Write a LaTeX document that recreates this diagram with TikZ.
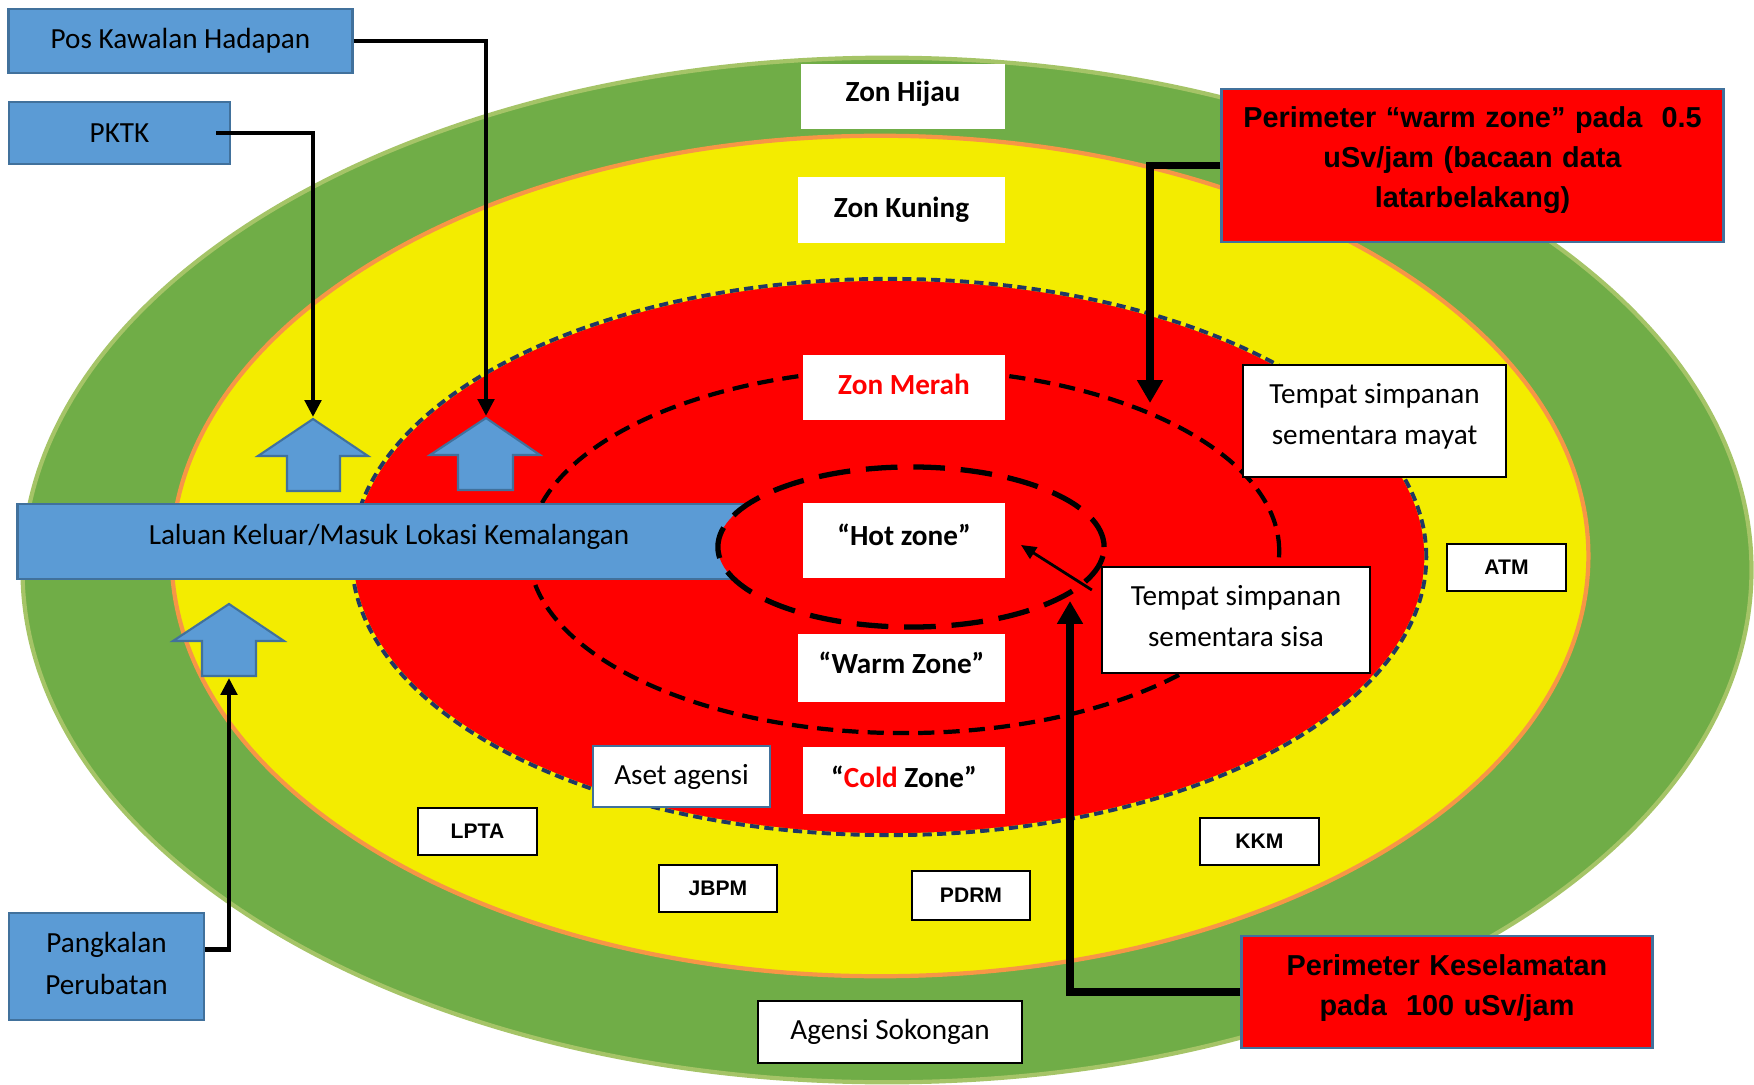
\documentclass[tikz,border=0pt]{standalone}
\usepackage{fontspec}
\setmainfont{Carlito}
\newfontfamily\arialfont{Liberation Sans}
\usetikzlibrary{arrows.meta}
\definecolor{zgreen}{HTML}{70AD47}
\definecolor{zgreenb}{HTML}{A5C467}
\definecolor{zyellow}{HTML}{F3EC00}
\definecolor{zorange}{HTML}{F79646}
\definecolor{zred}{HTML}{FF0000}
\definecolor{znavy}{HTML}{1F3864}
\definecolor{zblue}{HTML}{5B9BD5}
\definecolor{zblueb}{HTML}{41719C}
\newcommand{\zdepth}[1]{\rule[-#1]{0pt}{#1}}
\tikzset{
  txt/.style={font=\fontsize{8.3}{11.8}\selectfont},
  bluebox/.style={txt, fill=zblue, draw=zblueb, line width=0.8pt, inner sep=0pt, align=center},
  whitebox/.style={txt, fill=white, inner sep=0pt, align=center},
  zonebox/.style={whitebox, font=\fontsize{8.3}{11.8}\selectfont\bfseries},
  framebox/.style={whitebox, draw=black, line width=0.6pt},
  redbox/.style={fill=zred, draw=zblueb, line width=0.8pt, inner sep=0pt, align=center, font=\arialfont\bfseries\fontsize{8.2}{11.4}\selectfont},
  tagbox/.style={fill=white, draw=black, line width=0.8pt, inner sep=0pt, font=\arialfont\bfseries\fontsize{6}{7}\selectfont},
  blockarrow/.style={fill=zblue, draw=zblueb, line width=0.6pt},
  conn/.style={line width=1.3pt, -{Triangle[length=4.8pt,width=4.6pt]}},
  thickconn/.style={line width=2.2pt, -{Triangle[length=6.5pt,width=7pt]}},
  thinconn/.style={line width=0.8pt, -{Triangle[length=4.3pt,width=3.8pt]}},
}
\begin{document}
\begin{tikzpicture}[x=0.01cm,y=-0.01cm]
\useasboundingbox (0,0) rectangle (1754,1085);
% zones
\filldraw[fill=zgreen, draw=zgreenb, line width=1.2pt] (887,570) ellipse [x radius=8.64cm, y radius=5.12cm];
\filldraw[fill=zyellow, draw=zorange, line width=1.2pt] (880,556) ellipse [x radius=7.08cm, y radius=4.2cm];
\fill[zred] (889,557) ellipse [x radius=5.37cm, y radius=2.78cm];
\draw[zyellow, line width=1.1pt] (889,557) ellipse [x radius=5.37cm, y radius=2.78cm];
\draw[znavy, line width=1.1pt, dash pattern=on 2.6pt off 1.5pt] (889,557) ellipse [x radius=5.37cm, y radius=2.78cm];
\draw[black, line width=1.2pt, dash pattern=on 4.6pt off 2.6pt] (904,551) ellipse [x radius=3.75cm, y radius=1.82cm];
% route band
\node[bluebox, minimum width=7.42cm, minimum height=0.75cm] (band) at (389,541.5) {\raisebox{4pt}{Laluan Keluar/Masuk Lokasi Kemalangan}};
% hot zone
\filldraw[fill=zred, draw=black, line width=1.5pt, dash pattern=on 9pt off 4.5pt] (911,547) ellipse [x radius=1.93cm, y radius=0.8cm];
% block arrows
\filldraw[blockarrow] (313,419) -- (368,456) -- (340,456) -- (340,491) -- (287,491) -- (287,456) -- (258,456) -- cycle;
\filldraw[blockarrow] (486,418) -- (540,455) -- (513,455) -- (513,490) -- (458,490) -- (458,455) -- (430,455) -- cycle;
\filldraw[blockarrow] (229,604) -- (284,641) -- (256,641) -- (256,676) -- (202,676) -- (202,641) -- (173,641) -- cycle;
\coordinate (a1) at (313,417);
\coordinate (a2) at (486,416);
\coordinate (a3) at (229,678);
\coordinate (pwtip) at (1150,403);
\coordinate (pktip) at (1070,601);
\coordinate (hottip) at (1021,545);
% left blue boxes
\node[bluebox, minimum width=3.43cm, minimum height=0.64cm] (pkh) at (180.5,41) {Pos Kawalan Hadapan};
\node[bluebox, minimum width=2.21cm, minimum height=0.62cm] (pktk) at (119.5,133) {PKTK};
\node[bluebox, minimum width=1.95cm, minimum height=1.07cm] (pkl) at (106.5,966.5) {Pangkalan\\Perubatan\zdepth{1.8pt}};
% zone labels
\node[zonebox, minimum width=2.04cm, minimum height=0.65cm] (hijau) at (903,96.5) {\raisebox{3pt}{Zon Hijau}};
\node[zonebox, minimum width=2.07cm, minimum height=0.66cm] (kuning) at (901.5,210) {Zon Kuning};
\node[zonebox, minimum width=2.02cm, minimum height=0.65cm, text=zred] (merah) at (904,387.5) {\raisebox{2pt}{Zon Merah}};
\node[zonebox, minimum width=2.02cm, minimum height=0.75cm] (hot) at (904,540.5) {\raisebox{3.5pt}{“Hot zone”}};
\node[zonebox, minimum width=2.07cm, minimum height=0.68cm] (warm) at (901.5,668) {\raisebox{3pt}{“Warm Zone”}};
\node[zonebox, minimum width=2.02cm, minimum height=0.67cm] (cold) at (904,780.5) {\raisebox{2pt}{“{\color{zred}Cold} Zone”}};
% framed labels
\node[framebox, minimum width=2.63cm, minimum height=1.12cm] (mayat) at (1374.5,421) {Tempat simpanan\\sementara mayat\zdepth{4pt}};
\node[framebox, minimum width=2.68cm, minimum height=1.06cm] (sisa) at (1236,620) {Tempat simpanan\\sementara sisa\zdepth{2.2pt}};
\node[whitebox, draw=zblueb, line width=0.8pt, minimum width=1.77cm, minimum height=0.61cm] (aset) at (681.5,776.5) {Aset agensi};
\node[framebox, minimum width=2.64cm, minimum height=0.62cm] (sokongan) at (890,1032) {Agensi Sokongan};
% agency tags
\node[tagbox, minimum width=1.19cm, minimum height=0.47cm] (atm) at (1506.5,567.5) {ATM};
\node[tagbox, minimum width=1.19cm, minimum height=0.47cm] (lpta) at (477.5,831.5) {LPTA};
\node[tagbox, minimum width=1.18cm, minimum height=0.47cm] (jbpm) at (718,888.5) {JBPM};
\node[tagbox, minimum width=1.18cm, minimum height=0.49cm] (pdrm) at (971,895.5) {PDRM};
\node[tagbox, minimum width=1.19cm, minimum height=0.47cm] (kkm) at (1259.5,841.5) {KKM};
% red perimeter boxes
\node[redbox, minimum width=5.01cm, minimum height=1.53cm, text width=4.9cm] (pw) at (1472.5,165.5) {Perimeter “warm zone” pada\ \ 0.5\\uSv/jam (bacaan data\\latarbelakang)\zdepth{4.9pt}};
\node[redbox, minimum width=4.10cm, minimum height=1.12cm, text width=4.0cm] (pks) at (1447,992) {Perimeter Keselamatan\\pada\ \ 100 uSv/jam\zdepth{4.2pt}};
% connectors
\draw[conn] (pkh.east) -| (a2);
\draw[conn] ([xshift=-0.15cm]pktk.east) -| (a1);
\draw[conn] ([yshift=0.17cm]pkl.east) -| (a3);
\draw[thickconn] (pw.west) -| (pwtip);
\draw[thickconn] (pks.west) -| (pktip);
\draw[thinconn] ([xshift=-0.09cm,yshift=0.3cm]sisa.west) -- (hottip);
\end{tikzpicture}
\end{document}
